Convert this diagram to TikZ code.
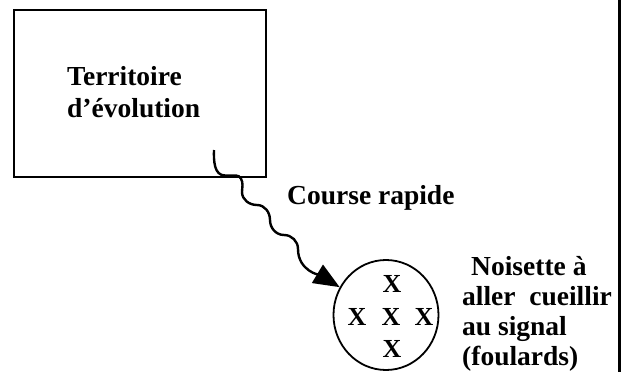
\documentclass[tikz,border=0pt]{standalone}
\usepackage{fontspec}
\setmainfont{Liberation Serif}
\usetikzlibrary{arrows.meta,shapes.geometric}

\begin{document}
\begin{tikzpicture}[x=1pt, y=1pt,
    boite/.style={draw, line width=2.2pt, minimum width=252pt, minimum height=167pt},
    rond/.style={draw, ellipse, line width=1.8pt, minimum width=105pt, minimum height=110pt},
    texte/.style={inner sep=0pt, align=left, font=\bfseries\fontsize{27.5}{32}\selectfont},
    croix/.style={inner sep=0pt, font=\bfseries\fontsize{26}{26}\selectfont}]

  \useasboundingbox (0,0) rectangle (625,-372);

  % le territoire
  \node[boite] (terrain) at (140,-93.5) {};
  \node[texte, anchor=base west] (terrainlbl) at (67,-117) {Territoire\\d’évolution};

  % la noisette et ses foulards
  \node[rond] (noisette) at (386,-315) {};
  \node[croix] (x1) at (392,-284) {X};
  \node[croix] (x2) at (357,-317) {X};
  \node[croix] (x3) at (391,-317) {X};
  \node[croix] (x4) at (424,-317) {X};
  \node[croix] (x5) at (392,-349) {X};

  \node[texte, anchor=base west, font=\bfseries\fontsize{27.5}{30}\selectfont]
    (consigne) at (462,-365) {\hspace*{9pt}Noisette à\\aller\ \ cueillir\\au signal\\(foulards)};

  % la course
  \coordinate (depart) at (214,-150);
  \draw[line width=2.4pt, -{Triangle[length=26pt,width=21pt]}]
    (depart) to[out=-92,in=180] (225,-175.5) -- (236,-175.5)
    to[out=0,in=90] (242.5,-185) -- (242,-192)
    to[out=-90,in=180] (257,-205) to[out=0,in=90] (270,-220)
    to[out=-90,in=180] (284,-235) to[out=0,in=90] (298,-249)
    to[out=-90,in=149] (noisette.149);
  \node[texte, anchor=base west] (course) at (287,-204) {Course rapide};

  % bord de page
  \draw[line width=3pt] (619,0) -- (619,-372);

\end{tikzpicture}
\end{document}
